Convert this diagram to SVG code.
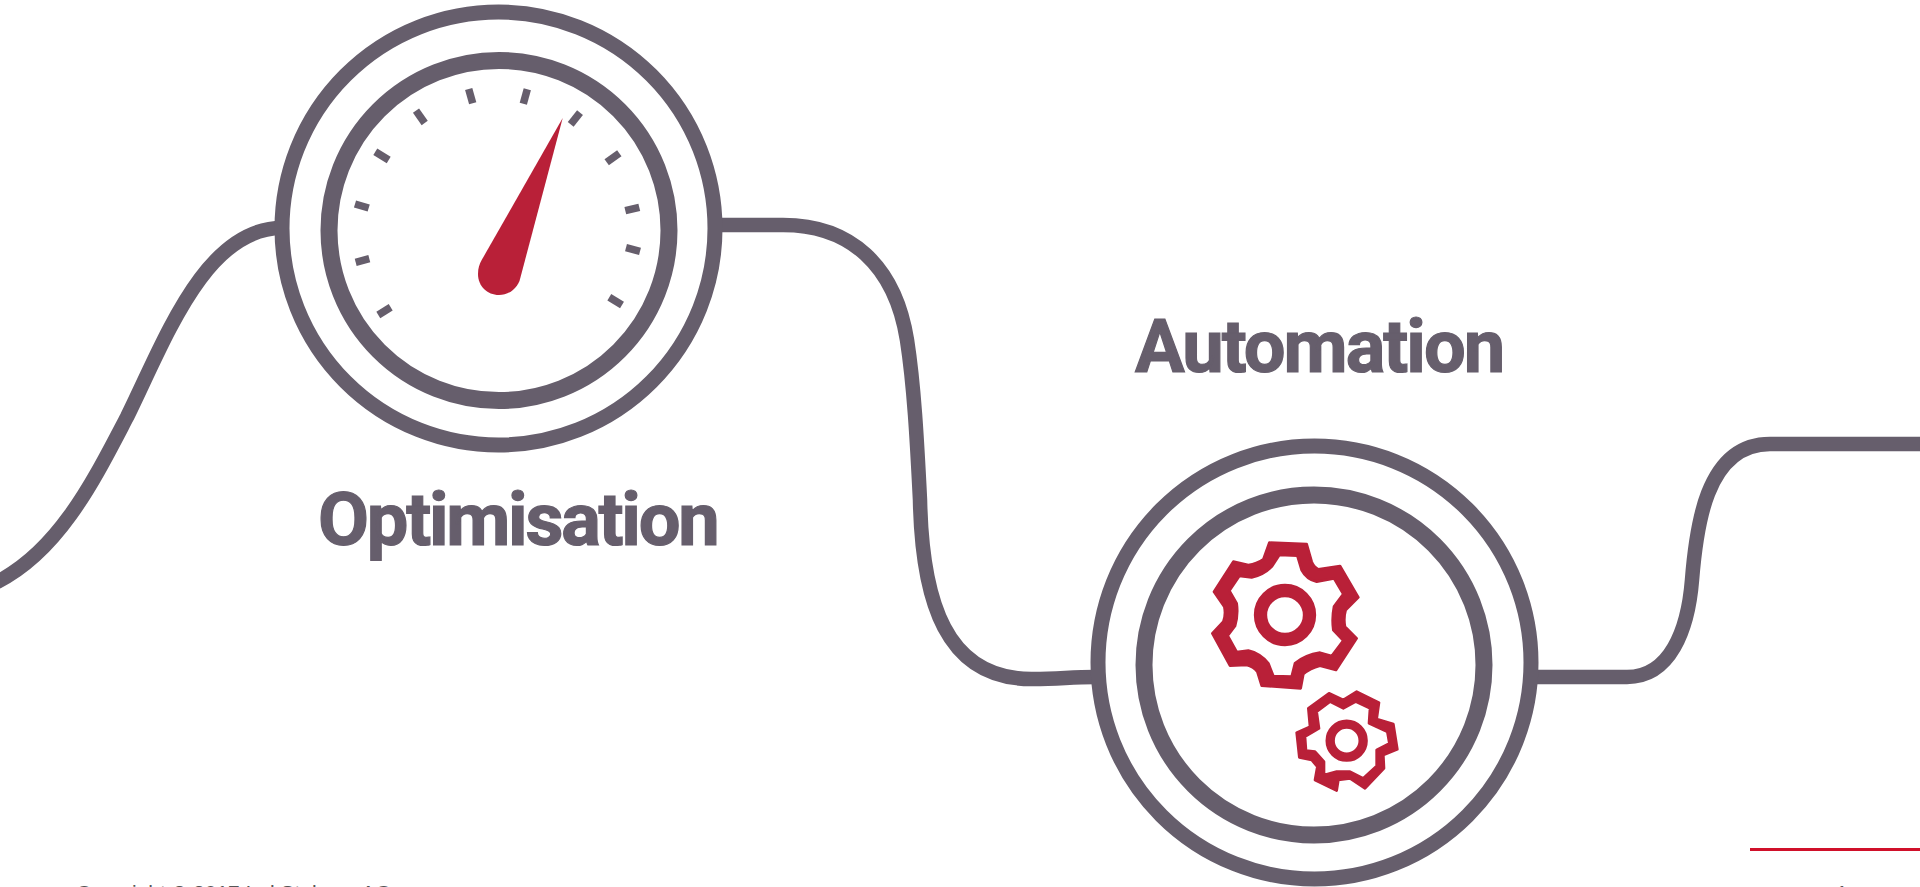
<svg xmlns="http://www.w3.org/2000/svg" width="1920" height="887" viewBox="0 0 1920 887">
<style>
.ln{fill:none;stroke:#665e6c;stroke-width:14.5}
.ring{fill:none;stroke:#665e6c;stroke-width:15}
.ring2{fill:none;stroke:#665e6c;stroke-width:17}
.tick{stroke:#665e6c;stroke-width:7.5;fill:none}
.red{fill:none;stroke:#b92038}
.gear{fill:#b92038;fill-rule:evenodd;stroke:#b92038;stroke-width:8;stroke-linejoin:round}
.title{font-family:Roboto,"Liberation Sans",sans-serif;font-weight:700;font-size:74px;fill:#665e6c;stroke:#665e6c;stroke-width:1.2}
.foot{font-family:"Liberation Sans",Arial,sans-serif;font-size:21px;fill:#555}
</style>
<rect width="1920" height="887" fill="#fff"/>
<g id="connectors">
<path class="ln" d="M-3,582 C60,550 95,478 127,417 C165,340 205,228 282,228"/>
<path class="ln" d="M716,225 L783,225 C850,225 895,265 907,340 C914,385 917,440 920,500 C922,600 945,680 1033,679 C1060,679 1070,677 1095,677"/>
<path class="ln" d="M1535,677 L1627,677 C1670,677 1688,630 1692,580 C1696,530 1705,444 1770,444 L1920,444"/>
</g>
<g id="optimisation">
<circle class="ring" cx="498.5" cy="228.5" r="216.5"/>
<circle class="ring2" cx="499" cy="230.5" r="170"/>
<g class="tick">
<path d="M378.3,315 L390.7,307.3"/><path d="M355.7,262.3 L369.3,258.7"/><path d="M355,204 L368.7,208"/><path d="M375.3,151.7 L388.7,160"/><path d="M416,110.7 L424.7,123"/><path d="M468.7,89 L472.7,103.3"/><path d="M527.3,89.3 L523.3,103.7"/><path d="M580,112.7 L570.7,124.3"/><path d="M619.3,153.3 L606.7,162.3"/><path d="M639.3,207.3 L625.3,210.7"/><path d="M626,247.7 L640,251.3"/><path d="M609.3,297.3 L622,305"/>
</g>
<path d="M562.7,118 L519.5,281 C515,291 507,295 499,295 C487,295 478,286 478,274 C478,268 479.5,264 481.7,260 Z" fill="#b92038"/>
<text class="title" x="318" y="545" letter-spacing="-2.25">Optimisation</text>
</g>
<g id="automation">
<circle class="ring" cx="1314.5" cy="662.5" r="216.5"/>
<circle class="ring2" cx="1314" cy="665" r="170"/>
<g transform="translate(1180,520) scale(0.33333)">
<g id="gear-large">
<circle class="red" cx="315" cy="285" r="73.5" stroke-width="40"/>
<path class="gear" d="M268,68 L380,72 L395,125 Q400,140 415,148 L480,138 L535,232 L497,270 Q490,295 495,320 L530,355 L468,450 L420,437 Q390,445 370,462 L362,505 L245,497 L232,455 Q220,440 200,435 L150,437 L97,340 L130,305 Q138,285 133,260 L102,215 L160,125 L205,135 Q230,132 250,118 Z M298,105 L352,107 L365,150 Q380,178 410,185 L462,175 L490,222 L462,260 Q455,295 460,330 L490,362 L455,408 L420,398 Q375,405 345,430 L335,470 L280,468 L265,430 Q240,400 205,392 L170,396 L143,347 L165,318 Q175,285 170,250 L148,212 L178,168 L215,172 Q250,165 275,140 Z"/>
</g>
<g id="gear-small">
<circle class="red" cx="500" cy="662" r="49.5" stroke-width="28"/>
<path class="gear" d="M447,520 L490,540 L530,515 L597,548 L590,597 L640,612 L652,688 L610,705 L612,745 L555,805 L510,775 L475,780 L470,812 L405,780 L412,740 L395,720 L358,712 L350,638 L390,620 L385,565 Z M450,545 L490,565 L527,545 L570,565 L567,610 L622,635 L628,670 L590,690 L590,738 L550,775 L510,755 L470,755 L432,765 L432,725 L405,695 L378,692 L375,650 L417,625 L410,575 Z"/>
</g>
</g>
<text class="title" x="1135" y="371.5" letter-spacing="-2">Automation</text>
</g>
<rect x="1750" y="848" width="170" height="3" fill="#d0102a"/>
<text class="foot" x="76" y="900">Copyright © 2017 Ind Stelmes AG</text>
<text class="foot" x="1836" y="900">1</text>
</svg>
